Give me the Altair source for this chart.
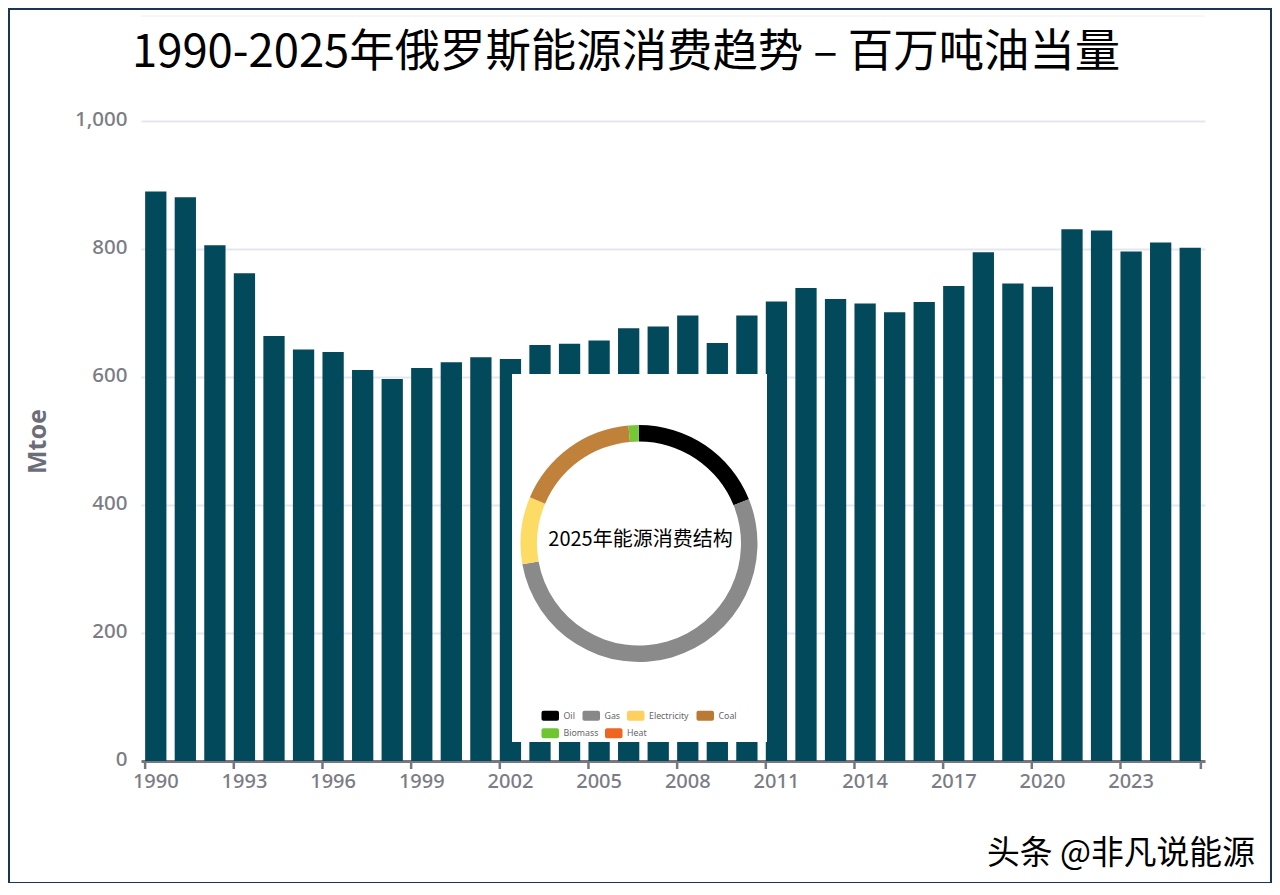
import altair as alt
import pandas as pd

years = list(range(1990, 2026))
mtoe = [890, 881, 806, 762, 664, 643, 639, 611, 597, 614, 623, 631, 628, 650, 652, 657, 676, 679,
        696, 653, 696, 718, 739, 722, 715, 701, 717, 742, 795, 746, 741, 831, 829, 796, 810, 802]
label_years = [1990, 1993, 1996, 1999, 2002, 2005, 2008, 2011, 2014, 2017, 2020, 2023]
sources = ["Oil", "Gas", "Electricity", "Coal", "Biomass", "Heat"]
shares = [18.9, 53.3, 9.2, 17.2, 1.4, 0.02]
source_colors = ["#000000", "#8a8a8a", "#fddc66", "#c0823a", "#74c837", "#ee6522"]
swatch_colors = ["#000000", "#888888", "#ffd05f", "#b87a35", "#6fc52f", "#ee6522"]

title_text = "1990-2025年俄罗斯能源消费趋势 – 百万吨油当量"
donut_text = "2025年能源消费结构"
mark_text = "头条 @非凡说能源"

CJK = "Noto Sans CJK SC"
LAT = "Noto Sans"
GREY = "#7b7c85"

bars_df = pd.DataFrame({"year": years, "mtoe": mtoe})
ticks_df = pd.DataFrame({"year": label_years})
end_df = pd.DataFrame({"year": [years[-1]]})
donut_df = pd.DataFrame({"source": sources, "share": shares, "order": list(range(len(sources)))})

x_enc = alt.X(
    "year:O",
    title=None,
    scale=alt.Scale(paddingInner=0.28, paddingOuter=0.14),
    axis=alt.Axis(
        values=label_years, labelAngle=0, labelFont=LAT, labelFontSize=20, labelFontWeight=500,
        labelColor=GREY, labelPadding=10, ticks=False, tickSize=8,
        domainColor="#77777f", domainWidth=3, grid=False,
    ),
)

bars = alt.Chart(bars_df).mark_bar(color="#03495c").encode(
    x=x_enc,
    y=alt.Y(
        "mtoe:Q",
        title="Mtoe",
        scale=alt.Scale(domain=[0, 1000]),
        axis=alt.Axis(
            values=[0, 200, 400, 600, 800, 1000], format=",.0f", domain=False, ticks=False,
            labelFont=LAT, labelFontSize=20.5, labelFontWeight=500, labelColor=GREY, labelPadding=14,
            labelOffset=-2, gridColor="#e4e7f0", gridWidth=2,
            titleFont=LAT, titleFontSize=25, titleFontWeight="bold", titleColor="#6b6e78",
            titlePadding=24,
        ),
    ),
)

tick_rules = alt.Chart(ticks_df).mark_rule(color="#77777f", strokeWidth=2.5).encode(
    x=alt.X("year:O", bandPosition=0),
    y=alt.value(640),
    y2=alt.value(648),
)
end_rule = alt.Chart(end_df).mark_rule(color="#77777f", strokeWidth=2.5).encode(
    x=alt.X("year:O", bandPosition=1),
    y=alt.value(640),
    y2=alt.value(648),
)

one = pd.DataFrame({"a": [1]})


def text_layer(txt, x, y, size, align="left", weight=400, color="#000000", font=CJK):
    return alt.Chart(pd.DataFrame({"t": [txt]})).mark_text(
        font=font, fontSize=size, align=align, baseline="middle", fontWeight=weight, color=color
    ).encode(x=alt.value(x), y=alt.value(y), text="t:N")


panel = alt.Chart(one).mark_rect(color="#ffffff").encode(
    x=alt.value(371), x2=alt.value(626), y=alt.value(253), y2=alt.value(621)
)

donut = alt.Chart(donut_df).mark_arc(innerRadius=102, outerRadius=118.5).encode(
    x=alt.value(498),
    y=alt.value(422.5),
    theta=alt.Theta("share:Q", stack=True),
    order=alt.Order("order:Q"),
    color=alt.Color(
        "source:N",
        scale=alt.Scale(domain=sources, range=source_colors),
        legend=None,
    ),
)

# Hand-placed legend: the second row does not line up with the first in the reference.
legend_left = [400.5, 441.5, 486, 555.5, 400.5, 464]
legend_top = [589.7, 589.7, 589.7, 589.7, 607.3, 607.3]
legend_layers = []
for name, colour, left, top in zip(sources, swatch_colors, legend_left, legend_top):
    legend_layers.append(
        alt.Chart(one).mark_rect(color=colour, cornerRadius=2).encode(
            x=alt.value(left), x2=alt.value(left + 17.5), y=alt.value(top), y2=alt.value(top + 10)
        )
    )
    legend_layers.append(text_layer(name, left + 22, top + 5, 8.8, color="#666666", font=LAT))

frame = alt.Chart(one).mark_rect(fill="transparent", stroke="#1b3556", strokeWidth=2).encode(
    x=alt.value(-132), x2=alt.value(1130), y=alt.value(-112), y2=alt.value(762)
)
top_line = alt.Chart(one).mark_rule(color="#eeeeee", strokeWidth=1).encode(
    x=alt.value(0), x2=alt.value(1064), y=alt.value(-105)
)

chart = alt.layer(
    bars,
    tick_rules,
    end_rule,
    panel,
    donut,
    *legend_layers,
    text_layer(donut_text, 499.5, 419, 20, align="center", weight=400),
    text_layer(title_text, -9, -68, 45.4),
    text_layer(mark_text, 846, 733, 32.8),
    top_line,
    frame,
).properties(
    width=1064,
    height=640,
    padding={"left": 133, "top": 113, "right": 67, "bottom": 122},
    autosize=alt.AutoSizeParams(type="none"),
).configure_view(stroke=None)

chart.save("out.html", embed_options={"renderer": "svg", "actions": False})
